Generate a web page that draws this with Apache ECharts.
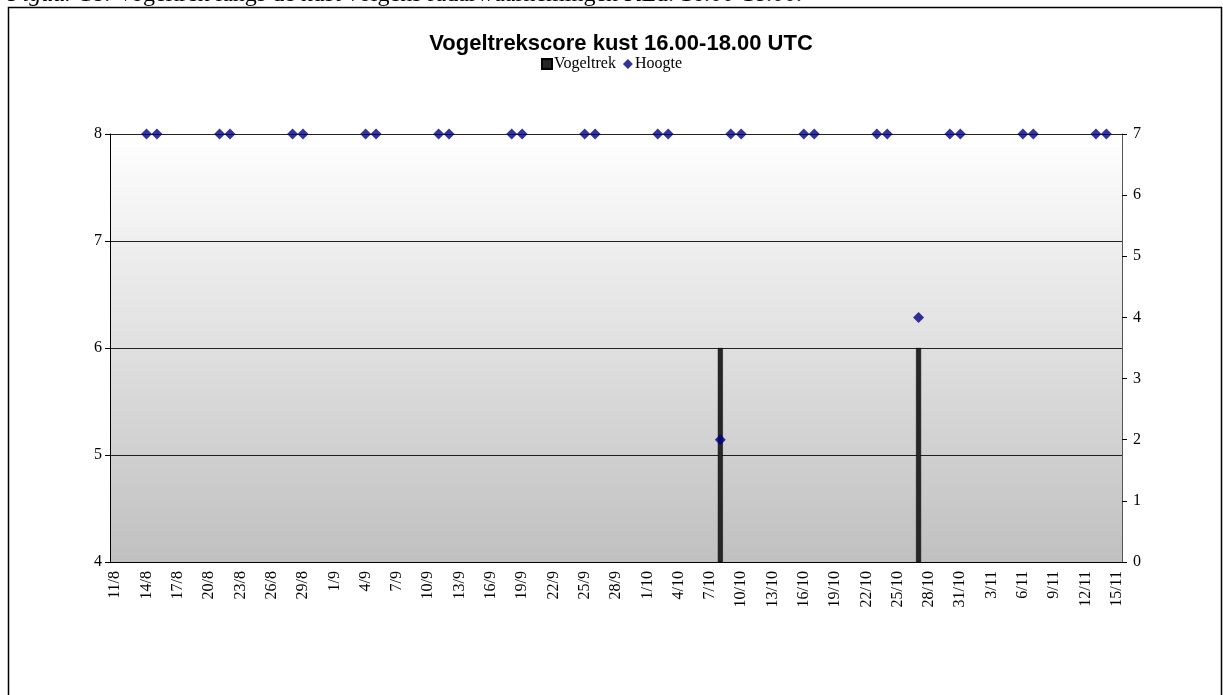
<!DOCTYPE html>
<html>
<head>
<meta charset="utf-8">
<script src="https://cdn.jsdelivr.net/npm/echarts@6/dist/echarts.min.js"></script>
<style>
  html, body { margin: 0; padding: 0; background: #fff; }
  #chart { width: 1223px; height: 695px; }
</style>
</head>
<body>
<div id="chart"></div>
<script>
    // dagen 11/8 t/m 15/11
    var dagen = [
        '11/8','12/8','13/8','14/8','15/8','16/8','17/8','18/8','19/8','20/8',
        '21/8','22/8','23/8','24/8','25/8','26/8','27/8','28/8','29/8','30/8','31/8',
        '1/9','2/9','3/9','4/9','5/9','6/9','7/9','8/9','9/9','10/9',
        '11/9','12/9','13/9','14/9','15/9','16/9','17/9','18/9','19/9','20/9',
        '21/9','22/9','23/9','24/9','25/9','26/9','27/9','28/9','29/9','30/9',
        '1/10','2/10','3/10','4/10','5/10','6/10','7/10','8/10','9/10','10/10',
        '11/10','12/10','13/10','14/10','15/10','16/10','17/10','18/10','19/10','20/10',
        '21/10','22/10','23/10','24/10','25/10','26/10','27/10','28/10','29/10','30/10','31/10',
        '1/11','2/11','3/11','4/11','5/11','6/11','7/11','8/11','9/11','10/11',
        '11/11','12/11','13/11','14/11','15/11'
    ];

    var vogeltrek = [
        ['8/10', 6],
        ['27/10', 6]
    ];

    var hoogte = [
        ['14/8', 7], ['15/8', 7], ['21/8', 7], ['22/8', 7], ['28/8', 7], ['29/8', 7],
        ['4/9', 7], ['5/9', 7], ['11/9', 7], ['12/9', 7], ['18/9', 7], ['19/9', 7],
        ['25/9', 7], ['26/9', 7], ['2/10', 7], ['3/10', 7], ['8/10', 2],
        ['9/10', 7], ['10/10', 7], ['16/10', 7], ['17/10', 7], ['23/10', 7], ['24/10', 7],
        ['27/10', 4], ['30/10', 7], ['31/10', 7], ['6/11', 7], ['7/11', 7],
        ['13/11', 7], ['14/11', 7]
    ];

    var linksTicks = [4, 8, 1];   // min, max, stap
    var rechtsTicks = [0, 7, 1];

    var serif = '"Liberation Serif", "Times New Roman", serif';

    var chart = echarts.init(document.getElementById('chart'));

    var option = {
        animation: false,
        backgroundColor: '#fff',
        title: {
            text: 'Vogeltrekscore kust 16.00-18.00 UTC',
            left: 616,
            textAlign: 'center',
            top: 27,
            textStyle: {
                fontFamily: '"Liberation Sans", Arial, sans-serif',
                fontSize: 22,
                lineHeight: 24,
                fontWeight: 'bold',
                color: '#000'
            }
        },
        legend: {
            top: 51,
            left: 'center',
            itemWidth: 10,
            itemHeight: 10,
            itemGap: 7,
            textStyle: {
                fontFamily: serif,
                fontSize: 16,
                color: '#000',
                padding: [0, 0, 0, -3]
            },
            data: [
                {name: 'Vogeltrek', icon: 'rect'},
                {name: 'Hoogte', icon: 'diamond'}
            ]
        },
        graphic: [
            {
                type: 'rect',
                shape: {x: 8.5, y: 7.5, width: 1213, height: 720},
                style: {fill: 'none', stroke: '#000', lineWidth: 1.5},
                silent: true
            },
            {
                type: 'text',
                left: 8,
                top: -17,
                style: {
                    text: '{i|Figuur 18.} Vogeltrek langs de kust volgens radarwaarnemingen KLu. 16.00-18.00.',
                    font: '24px ' + serif,
                    fill: '#000',
                    rich: {
                        i: {fontStyle: 'italic', fontFamily: serif, fontSize: 24}
                    }
                }
            }
        ],
        grid: {
            left: 110,
            right: 101,
            top: 134,
            bottom: 133,
            show: true,
            borderWidth: 0,
            backgroundColor: new echarts.graphic.LinearGradient(0, 0, 0, 1, [
                {offset: 0, color: '#ffffff'},
                {offset: 1, color: '#c0c0c0'}
            ])
        },
        xAxis: [
            {
                type: 'category',
                data: dagen,
                boundaryGap: true,
                axisLine: {lineStyle: {color: '#000', width: 1}},
                axisTick: {interval: 0, length: 4, lineStyle: {color: '#000'}},
                axisLabel: {
                    interval: 2,
                    rotate: 90,
                    margin: 9,
                    fontFamily: serif,
                    fontSize: 16,
                    color: '#000'
                }
            },
            {
                type: 'category',
                data: dagen,
                position: 'bottom',
                boundaryGap: true,
                axisLine: {show: false},
                axisTick: {interval: 0, inside: true, length: 4, lineStyle: {color: '#000'}},
                axisLabel: {show: false}
            }
        ],
        yAxis: [
            {
                type: 'value',
                min: linksTicks[0],
                max: linksTicks[1],
                interval: linksTicks[2],
                axisLine: {show: true, lineStyle: {color: '#000'}},
                axisTick: {show: true, length: 5, lineStyle: {color: '#000'}},
                axisLabel: {fontFamily: serif, fontSize: 16, color: '#000', margin: 8},
                splitLine: {lineStyle: {color: '#222', width: 1}}
            },
            {
                type: 'value',
                min: rechtsTicks[0],
                max: rechtsTicks[1],
                interval: rechtsTicks[2],
                position: 'right',
                axisLine: {show: true, lineStyle: {color: '#555'}},
                axisTick: {show: true, length: 5, lineStyle: {color: '#000'}},
                axisLabel: {fontFamily: serif, fontSize: 16, color: '#000', margin: 11},
                splitLine: {show: false}
            }
        ],
        series: [
            {
                name: 'Vogeltrek',
                type: 'bar',
                yAxisIndex: 0,
                barWidth: 5,
                itemStyle: {color: '#262626', borderColor: '#000', borderWidth: 0.5},
                data: vogeltrek
            },
            {
                name: 'Hoogte',
                type: 'scatter',
                yAxisIndex: 1,
                symbol: 'diamond',
                symbolSize: 11,
                itemStyle: {color: '#000080'},
                data: hoogte,
                z: 5
            }
        ]
    };

    chart.setOption(option);
</script>
</body>
</html>
